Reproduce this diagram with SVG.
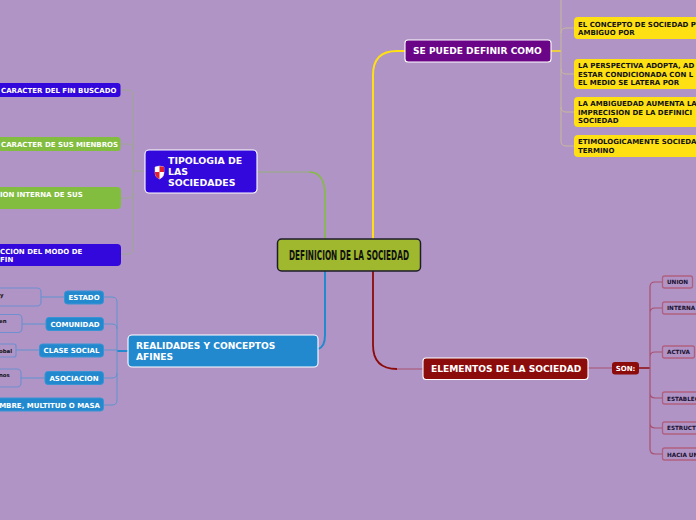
<svg xmlns="http://www.w3.org/2000/svg" width="696" height="520" viewBox="0 0 696 520">
<style>
text{font-family:"DejaVu Sans","Liberation Sans",sans-serif;font-weight:700}
.w{fill:#fff}.k{fill:#111}
.s7{font-size:7px}.s6{font-size:5.7px;fill:#1a1030}.s5{font-size:5.4px}.m{font-size:9.1px}.t{font-size:9.4px}
.main{stroke:#fff;stroke-width:1.1}
.c{fill:none}
.blue{fill:#2389cf;stroke:#3a93d3;stroke-width:1}
.leafb{fill:#b094c5;stroke:#6f8fd0;stroke-width:1.2}
.leafr{fill:#b094c5;stroke:#b0607f;stroke-width:1.3}
.yel{fill:#ffe012}
</style>
<rect width="696" height="520" fill="#b094c5"/>
<g id="connectors" class="c">
<path d="M373 239V75Q373 51 397 51H405" stroke="#ffe012" stroke-width="2"/>
<path d="M325 239V196Q325 172 309 172" stroke="#83bd3f" stroke-width="1.6"/>
<path d="M309 172H257" stroke="#8fb56a" stroke-width=".8"/>
<path d="M325 271V335Q325 347 318 349" stroke="#2389cf" stroke-width="2"/>
<path d="M373 271V345Q373 369 397 369" stroke="#8c0b0b" stroke-width="1.8"/>
<path d="M397 369H423" stroke="#a8506f" stroke-width="1"/>
<path d="M551 51H561" stroke="#ffe012" stroke-width="1.5"/>
<path d="M561 0V141Q561 146 566 146H574M561 33Q561 28 566 28H574M561 69Q561 74 566 74H574M561 107Q561 112 566 112H574" stroke="#c9b89a" stroke-width="1"/>
<path d="M145 171H133M133 95Q133 90 128 90H121M133 95V249Q133 254 128 254H121M133 149Q133 144 128 144H121M133 193Q133 198 128 198H121" stroke="#9aab86" stroke-width=".8"/>
<path d="M128 351H117" stroke="#2389cf" stroke-width="2"/>
<path d="M117 302V400Q117 405 112 405H104M117 302Q117 297 112 297H103M117 329Q117 324 112 324H103M117 350H104M117 373Q117 378 112 378H103" stroke="#5f93d0" stroke-width="1"/>
<path d="M64 297H41M46 324H22M39 350H16M45 378H21" stroke="#5f93d0" stroke-width="1"/>
<path d="M588 368H612" stroke="#a8506f" stroke-width="1"/>
<path d="M639 368H650" stroke="#8c0b0b" stroke-width="1.5"/>
<path d="M650 287Q650 282 655 282H662M650 287V449Q650 454 655 454H662M650 313Q650 308 655 308H662M650 357Q650 352 655 352H662M650 393Q650 398 655 398H662M650 423Q650 428 655 428H662" stroke="#a8506f" stroke-width="1.2"/>
</g>
<g id="center"><rect x="277.500" y="239" width="143" height="32" rx="4" fill="#9fb82e" stroke="#1c1c2a" stroke-width="1.500"/><text x="349" y="259.500" text-anchor="middle" class="k" style="font-family:'DejaVu Sans Condensed','DejaVu Sans',sans-serif;font-size:13.500px" textLength="120" lengthAdjust="spacingAndGlyphs">DEFINICION DE LA SOCIEDAD</text></g>
<g id="definir"><rect x="405" y="40" width="146" height="22" rx="3" fill="#6a0587" class="main"/><text x="413" y="54" class="w m">SE PUEDE DEFINIR COMO</text></g>
<g id="y1"><rect x="574" y="17" width="130" height="22" rx="4" class="yel"/><text x="578" y="27" class="k s7">EL CONCEPTO DE SOCIEDAD P</text><text x="578" y="35" class="k s7">AMBIGUO POR</text></g>
<g id="y2"><rect x="574" y="59" width="130" height="30" rx="4" class="yel"/><text x="578" y="68" class="k s7">LA PERSPECTIVA ADOPTA, AD</text><text x="578" y="77" class="k s7">ESTAR CONDICIONADA CON L</text><text x="578" y="85" class="k s7">EL MEDIO SE LATERA POR</text></g>
<g id="y3"><rect x="574" y="97" width="130" height="30" rx="4" class="yel"/><text x="578" y="106" class="k s7">LA AMBIGUEDAD AUMENTA LA</text><text x="578" y="115" class="k s7">IMPRECISION DE LA DEFINICI</text><text x="578" y="123" class="k s7">SOCIEDAD</text></g>
<g id="y4"><rect x="574" y="135" width="130" height="22" rx="4" class="yel"/><text x="578" y="144" class="k s7">ETIMOLOGICAMENTE SOCIEDA</text><text x="578" y="153" class="k s7">TERMINO</text></g>
<g id="tipologia"><rect x="145" y="150" width="112" height="43" rx="4" fill="#3308dd" class="main"/><path d="M155 167q4.500-2 9 0v6q0 4-4.500 6q-4.500-2-4.500-6z" fill="#fff" stroke="#ddd" stroke-width=".5"/><path d="M159.500 166.200q2.500 0 4.500.8v5h-4.500zM155 172h4.500v7q-4.500-2-4.500-6z" fill="#e02030"/><text x="168" y="164" class="w t">TIPOLOGIA DE</text><text x="168" y="175" class="w t">LAS</text><text x="168" y="186" class="w t">SOCIEDADES</text></g>
<g id="t1"><rect x="-20" y="83" width="140.500" height="14" rx="3" fill="#3308dd"/><text x="1" y="93" class="w s7">CARACTER DEL FIN BUSCADO</text></g>
<g id="t2"><rect x="-20" y="137" width="140.500" height="14" rx="3" fill="#83bd3f"/><text x="1" y="147" class="w s7">CARACTER DE SUS MIENBROS</text></g>
<g id="t3"><rect x="-20" y="187" width="141" height="22" rx="4" fill="#83bd3f"/><text x="0" y="197" class="w s7">ION INTERNA DE SUS</text></g>
<g id="t4"><rect x="-20" y="244" width="141" height="22" rx="4" fill="#3308dd"/><text x="0" y="254" class="w s7">CCION DEL MODO DE</text><text x="0" y="262" class="w s7">FIN</text></g>
<g id="realidades"><rect x="128" y="335" width="190" height="32" rx="4" fill="#2389cf" class="main"/><text x="136" y="349" class="w m">REALIDADES Y CONCEPTOS</text><text x="136" y="360" class="w m">AFINES</text></g>
<g id="r1"><rect x="64.500" y="291" width="39" height="13" rx="3" class="blue"/><text x="84" y="300" text-anchor="middle" class="w s7">ESTADO</text></g>
<g id="r2"><rect x="46" y="317.500" width="57.500" height="13" rx="3" class="blue"/><text x="75" y="327" text-anchor="middle" class="w s7">COMUNIDAD</text></g>
<g id="r3"><rect x="39.500" y="344" width="64" height="13" rx="3" class="blue"/><text x="71.500" y="353" text-anchor="middle" class="w s7">CLASE SOCIAL</text></g>
<g id="r4"><rect x="45" y="371.500" width="58.500" height="13" rx="3" class="blue"/><text x="74" y="381" text-anchor="middle" class="w s7">ASOCIACION</text></g>
<g id="r5"><rect x="-20" y="398" width="123.500" height="13" rx="3" class="blue"/><text x="100" y="407.500" text-anchor="end" class="w s7">MBRE, MULTITUD O MASA</text></g>
<g id="l1"><rect x="-20" y="288" width="61" height="18" rx="4" class="leafb"/><text x="0" y="297" class="k s5">y</text></g>
<g id="l2"><rect x="-20" y="314.500" width="42" height="18" rx="4" class="leafb"/><text x="-1" y="323" class="k s5">en</text></g>
<g id="l3"><rect x="-20" y="344" width="36" height="13" rx="2" class="leafb"/><text x="-1" y="353" class="k s5">obal</text></g>
<g id="l4"><rect x="-20" y="369" width="41" height="18" rx="4" class="leafb"/><text x="-1" y="377" class="k s5">nos</text></g>
<g id="elementos"><rect x="423" y="358" width="165" height="21.500" rx="3" fill="#8c0b0b" class="main"/><text x="431" y="372" class="w m">ELEMENTOS DE LA SOCIEDAD</text></g>
<g id="son"><rect x="612" y="362" width="27" height="12.500" rx="3" fill="#8c0b0b"/><text x="625.500" y="371" text-anchor="middle" class="w s7">SON:</text></g>
<g id="e1"><rect x="662.500" y="276" width="30" height="12" rx="2" class="leafr"/><text x="667" y="284" class="s6">UNION</text></g>
<g id="e2"><rect x="662.500" y="302" width="50" height="12" rx="2" class="leafr"/><text x="667" y="310" class="s6">INTERNA</text></g>
<g id="e3"><rect x="662.500" y="346" width="32" height="12" rx="2" class="leafr"/><text x="667" y="354" class="s6">ACTIVA</text></g>
<g id="e4"><rect x="662.500" y="392" width="50" height="12" rx="2" class="leafr"/><text x="667" y="400.500" class="s6">ESTABLEC</text></g>
<g id="e5"><rect x="662.500" y="422" width="50" height="12" rx="2" class="leafr"/><text x="667" y="430" class="s6">ESTRUCT</text></g>
<g id="e6"><rect x="662.500" y="448" width="50" height="12" rx="2" class="leafr"/><text x="667" y="456.500" class="s6">HACIA UN</text></g>
</svg>
